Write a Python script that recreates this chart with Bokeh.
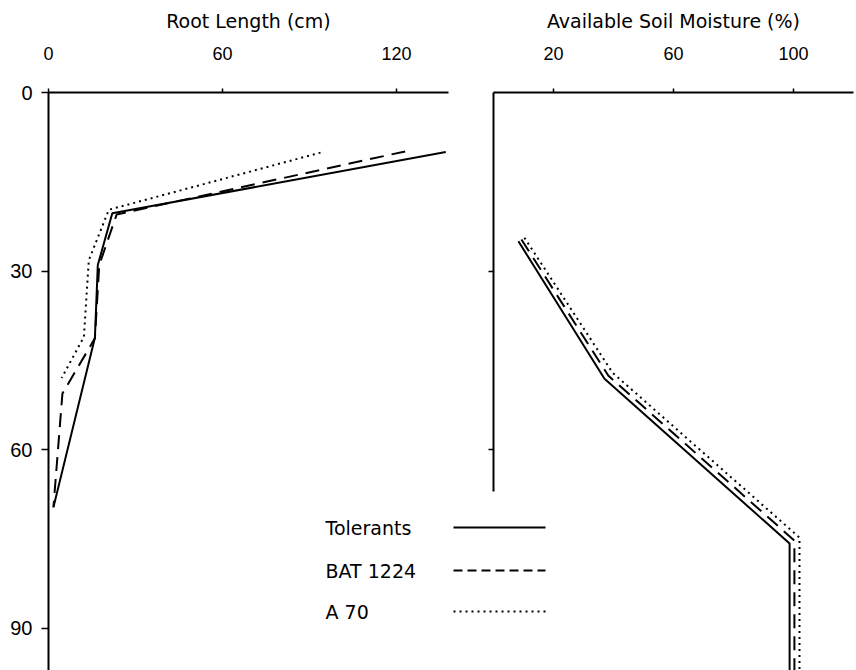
from bokeh.plotting import figure
from bokeh.models import Range1d, FixedTicker
from bokeh.core.properties import value
from bokeh.layouts import row
from bokeh.embed import file_html
from bokeh.resources import INLINE

# ---- data ----
series_names = ["Tolerants", "BAT 1224", "A 70"]

# Root length (cm) against depth (cm)
root_tol_len = [137, 22, 17, 16, 1.7]
root_tol_depth = [10, 20.3, 29, 41.2, 69.7]
root_bat_len = [123, 23.5, 17.5, 16, 4.8, 1.7]
root_bat_depth = [9.9, 20.5, 29, 41.3, 50.6, 69.7]
root_a70_len = [93.8, 20.8, 13.9, 12.2, 4.5]
root_a70_depth = [10.1, 19.7, 28.2, 41.1, 48]

# Available soil moisture (%) against depth (cm)
moist_tol = [8.3, 37, 98.7, 98.7]
moist_tol_depth = [25, 48.1, 75.8, 100]
moist_bat = [9.3, 38.3, 100.3, 100.3]
moist_bat_depth = [24.7, 47.6, 75.3, 100]
moist_a70 = [10.3, 39.7, 102, 102]
moist_a70_depth = [24.4, 47.1, 74.8, 100]

root_ticks = [0, 60, 120]
moist_ticks = [20, 60, 100]
depth_ticks = [0, 30, 60, 90]
moist_depth_ticks = [30, 60]

root_title = "Root Length (cm)"
moist_title = "Available Soil Moisture (%)"

# ---- layout / style ----
W, H = 856, 670
FONT = "Liberation Sans"
TEXT_FONT = "DejaVu Sans"
TOP_TICK_SIZE = "18px"
LEFT_TICK_SIZE = "20px"
TITLE_SIZE = "19px"
LEGEND_SIZE = "19px"
FRAME_TOP = 92
FRAME_H = H - FRAME_TOP
Y_MAX = FRAME_H / 5.95
dashes = ["solid", "14 8", "2 4"]
legend_dashes = ["solid", "9 5", "2 4"]

# legend placement (page pixels, in the overlay canvas)
LEG_TEXT_X = 325
LEG_SAMPLE_X = (453, 545)
LEG_Y = [527, 570, 611]


def style_top_axis(ax, ticks, label):
    ax.ticker = FixedTicker(ticks=ticks)
    ax.axis_label = label
    ax.axis_label_text_font = TEXT_FONT
    ax.axis_label_text_font_size = TITLE_SIZE
    ax.axis_label_text_font_style = "normal"
    ax.axis_label_text_color = "black"
    ax.axis_label_standoff = 12
    ax.major_label_text_font = FONT
    ax.major_label_text_font_size = TOP_TICK_SIZE
    ax.major_label_text_color = "black"
    ax.major_label_standoff = 29
    ax.major_tick_out = 4
    ax.major_tick_in = 0
    ax.minor_tick_out = 0
    ax.minor_tick_in = 0
    ax.axis_line_width = 2
    ax.major_tick_line_width = 1.5
    ax.axis_line_color = "black"


def base_fig(frame_w, left_border, right_border, x_range):
    p = figure(frame_width=frame_w, frame_height=FRAME_H,
               min_border_left=left_border, min_border_right=right_border,
               min_border_top=FRAME_TOP, min_border_bottom=0,
               x_range=x_range, y_range=Range1d(Y_MAX, 0),
               x_axis_location="above",
               output_backend="svg", toolbar_location=None)
    p.grid.visible = False
    p.outline_line_color = None
    p.background_fill_color = None
    p.border_fill_color = None
    ay = p.yaxis[0]
    ay.major_tick_in = 0
    ay.minor_tick_in = 0
    ay.minor_tick_out = 0
    ay.axis_line_width = 2
    ay.major_tick_line_width = 1.5
    ay.axis_line_color = "black"
    return p


# ---- overlay canvas (under the panels): legend ----
p0 = figure(frame_width=W, frame_height=FRAME_H, min_border_left=0,
            min_border_right=0, min_border_top=FRAME_TOP, min_border_bottom=0,
            x_range=Range1d(0, W), y_range=Range1d(H, FRAME_TOP),
            x_axis_location=None, y_axis_location=None,
            output_backend="svg", toolbar_location=None)
p0.grid.visible = False
p0.outline_line_color = None
p0.background_fill_color = "white"
p0.border_fill_color = "white"
p0.text(x=[LEG_TEXT_X] * 3, y=LEG_Y, text=series_names,
        text_font=value(TEXT_FONT), text_font_size=LEGEND_SIZE,
        text_align="left", text_baseline="middle", text_color="black")
for ly, dash in zip(LEG_Y, legend_dashes):
    p0.line(list(LEG_SAMPLE_X), [ly, ly], line_color="black", line_width=2,
            line_dash=dash)

# ---- left panel: root length ----
p1 = base_fig(400, 48, 12, Range1d(0, 400 / 2.9))
p1.margin = (0, 0, 0, -W)   # lies over the overlay canvas
style_top_axis(p1.xaxis[0], root_ticks, root_title)
ay1 = p1.yaxis[0]
ay1.ticker = FixedTicker(ticks=depth_ticks)
ay1.major_tick_out = 7
ay1.major_label_standoff = 9
ay1.major_label_text_font = FONT
ay1.major_label_text_font_size = LEFT_TICK_SIZE
ay1.major_label_text_color = "black"

root_series = [(root_tol_len, root_tol_depth), (root_bat_len, root_bat_depth),
               (root_a70_len, root_a70_depth)]
for (xs, ys), dash in zip(root_series, dashes):
    p1.line(xs, ys, line_color="black", line_width=2, line_dash=dash)

# ---- right panel: available soil moisture ----
p2 = base_fig(360, 33, 3, Range1d(0, 120))
style_top_axis(p2.xaxis[0], moist_ticks, moist_title)
ay2 = p2.yaxis[0]
ay2.ticker = FixedTicker(ticks=moist_depth_ticks)
ay2.bounds = (0, 67)
ay2.major_tick_out = 5
ay2.major_label_text_color = None

moist_series = [(moist_tol, moist_tol_depth), (moist_bat, moist_bat_depth),
                (moist_a70, moist_a70_depth)]
for (xs, ys), dash in zip(moist_series, dashes):
    p2.line(xs, ys, line_color="black", line_width=2, line_dash=dash)

layout = row(p0, p1, p2)
open("out.html", "w").write(file_html(layout, INLINE))
